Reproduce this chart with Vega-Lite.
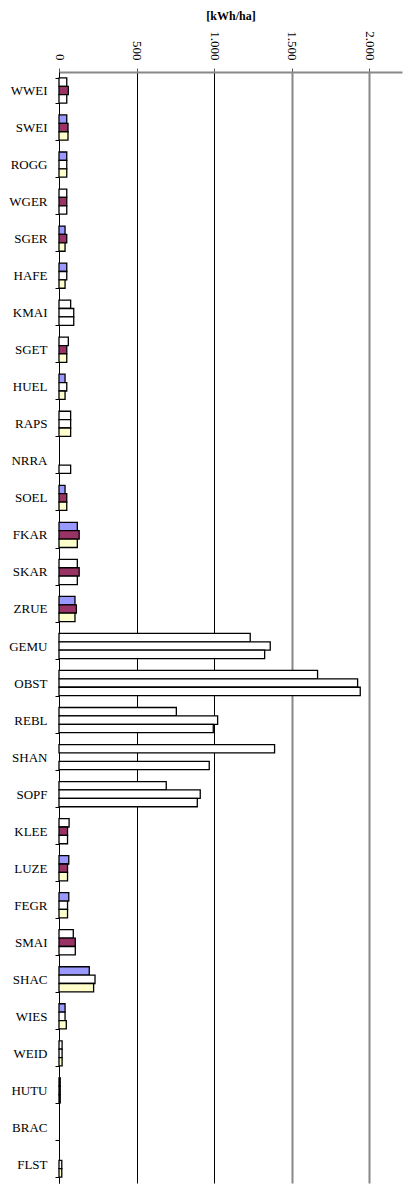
{
  "$schema": "https://vega.github.io/schema/vega-lite/v6.json",
  "width": 343,
  "height": 1111,
  "autosize": {"type": "none"},
  "padding": {"left": 59, "top": 72, "right": 7, "bottom": 6},
  "background": "white",
  "config": {"view": {"stroke": null}},
  "data": {
    "values": [
      {"crop": "WWEI", "series": "S1", "value": 50, "marked": true},
      {"crop": "WWEI", "series": "S2", "value": 60, "marked": false},
      {"crop": "WWEI", "series": "S3", "value": 50, "marked": true},
      {"crop": "SWEI", "series": "S1", "value": 50, "marked": false},
      {"crop": "SWEI", "series": "S2", "value": 58, "marked": false},
      {"crop": "SWEI", "series": "S3", "value": 58, "marked": false},
      {"crop": "ROGG", "series": "S1", "value": 50, "marked": false},
      {"crop": "ROGG", "series": "S2", "value": 50, "marked": true},
      {"crop": "ROGG", "series": "S3", "value": 50, "marked": false},
      {"crop": "WGER", "series": "S1", "value": 50, "marked": true},
      {"crop": "WGER", "series": "S2", "value": 50, "marked": false},
      {"crop": "WGER", "series": "S3", "value": 50, "marked": true},
      {"crop": "SGER", "series": "S1", "value": 39, "marked": false},
      {"crop": "SGER", "series": "S2", "value": 50, "marked": false},
      {"crop": "SGER", "series": "S3", "value": 39, "marked": false},
      {"crop": "HAFE", "series": "S1", "value": 50, "marked": false},
      {"crop": "HAFE", "series": "S2", "value": 50, "marked": true},
      {"crop": "HAFE", "series": "S3", "value": 39, "marked": false},
      {"crop": "KMAI", "series": "S1", "value": 75, "marked": true},
      {"crop": "KMAI", "series": "S2", "value": 95, "marked": true},
      {"crop": "KMAI", "series": "S3", "value": 95, "marked": true},
      {"crop": "SGET", "series": "S1", "value": 60, "marked": true},
      {"crop": "SGET", "series": "S2", "value": 50, "marked": false},
      {"crop": "SGET", "series": "S3", "value": 50, "marked": false},
      {"crop": "HUEL", "series": "S1", "value": 39, "marked": false},
      {"crop": "HUEL", "series": "S2", "value": 50, "marked": true},
      {"crop": "HUEL", "series": "S3", "value": 39, "marked": false},
      {"crop": "RAPS", "series": "S1", "value": 75, "marked": true},
      {"crop": "RAPS", "series": "S2", "value": 75, "marked": true},
      {"crop": "RAPS", "series": "S3", "value": 75, "marked": false},
      {"crop": "NRRA", "series": "S3", "value": 75, "marked": true},
      {"crop": "SOEL", "series": "S1", "value": 39, "marked": false},
      {"crop": "SOEL", "series": "S2", "value": 50, "marked": false},
      {"crop": "SOEL", "series": "S3", "value": 50, "marked": false},
      {"crop": "FKAR", "series": "S1", "value": 118, "marked": false},
      {"crop": "FKAR", "series": "S2", "value": 130, "marked": false},
      {"crop": "FKAR", "series": "S3", "value": 118, "marked": false},
      {"crop": "SKAR", "series": "S1", "value": 118, "marked": true},
      {"crop": "SKAR", "series": "S2", "value": 130, "marked": false},
      {"crop": "SKAR", "series": "S3", "value": 118, "marked": true},
      {"crop": "ZRUE", "series": "S1", "value": 103, "marked": false},
      {"crop": "ZRUE", "series": "S2", "value": 112, "marked": false},
      {"crop": "ZRUE", "series": "S3", "value": 103, "marked": false},
      {"crop": "GEMU", "series": "S1", "value": 1232, "marked": true},
      {"crop": "GEMU", "series": "S2", "value": 1361, "marked": true},
      {"crop": "GEMU", "series": "S3", "value": 1325, "marked": true},
      {"crop": "OBST", "series": "S1", "value": 1666, "marked": true},
      {"crop": "OBST", "series": "S2", "value": 1924, "marked": true},
      {"crop": "OBST", "series": "S3", "value": 1941, "marked": true},
      {"crop": "REBL", "series": "S1", "value": 756, "marked": true},
      {"crop": "REBL", "series": "S2", "value": 1022, "marked": true},
      {"crop": "REBL", "series": "S3", "value": 994, "marked": true},
      {"crop": "SHAN", "series": "S1", "value": 1389, "marked": true},
      {"crop": "SHAN", "series": "S3", "value": 968, "marked": true},
      {"crop": "SOPF", "series": "S1", "value": 691, "marked": true},
      {"crop": "SOPF", "series": "S2", "value": 910, "marked": true},
      {"crop": "SOPF", "series": "S3", "value": 891, "marked": true},
      {"crop": "KLEE", "series": "S1", "value": 65, "marked": true},
      {"crop": "KLEE", "series": "S2", "value": 55, "marked": false},
      {"crop": "KLEE", "series": "S3", "value": 55, "marked": true},
      {"crop": "LUZE", "series": "S1", "value": 63, "marked": false},
      {"crop": "LUZE", "series": "S2", "value": 55, "marked": false},
      {"crop": "LUZE", "series": "S3", "value": 55, "marked": false},
      {"crop": "FEGR", "series": "S1", "value": 63, "marked": false},
      {"crop": "FEGR", "series": "S2", "value": 55, "marked": true},
      {"crop": "FEGR", "series": "S3", "value": 55, "marked": false},
      {"crop": "SMAI", "series": "S1", "value": 92, "marked": true},
      {"crop": "SMAI", "series": "S2", "value": 105, "marked": false},
      {"crop": "SMAI", "series": "S3", "value": 105, "marked": true},
      {"crop": "SHAC", "series": "S1", "value": 195, "marked": false},
      {"crop": "SHAC", "series": "S2", "value": 232, "marked": true},
      {"crop": "SHAC", "series": "S3", "value": 223, "marked": false},
      {"crop": "WIES", "series": "S1", "value": 39, "marked": false},
      {"crop": "WIES", "series": "S2", "value": 39, "marked": true},
      {"crop": "WIES", "series": "S3", "value": 47, "marked": false},
      {"crop": "WEID", "series": "S1", "value": 20, "marked": true},
      {"crop": "WEID", "series": "S2", "value": 20, "marked": true},
      {"crop": "WEID", "series": "S3", "value": 20, "marked": false},
      {"crop": "HUTU", "series": "S1", "value": 8, "marked": true},
      {"crop": "HUTU", "series": "S2", "value": 8, "marked": true},
      {"crop": "HUTU", "series": "S3", "value": 8, "marked": true},
      {"crop": "FLST", "series": "S2", "value": 18, "marked": true},
      {"crop": "FLST", "series": "S3", "value": 18, "marked": false}
    ]
  },
  "mark": {"type": "bar", "stroke": "black", "strokeWidth": 1.3},
  "encoding": {
    "y": {
      "field": "crop",
      "type": "nominal",
      "sort": null,
      "scale": {
        "domain": ["WWEI","SWEI","ROGG","WGER","SGER","HAFE","KMAI","SGET","HUEL","RAPS","NRRA","SOEL","FKAR","SKAR","ZRUE","GEMU","OBST","REBL","SHAN","SOPF","KLEE","LUZE","FEGR","SMAI","SHAC","WIES","WEID","HUTU","BRAC","FLST"],
        "paddingInner": 0.32,
        "paddingOuter": 0.16
      },
      "axis": {
        "title": null,
        "orient": "left",
        "tickBand": "extent",
        "tickSize": 4,
        "tickColor": "black",
        "domainColor": "black",
        "labelFont": "Liberation Serif",
        "labelFontSize": 13,
        "labelColor": "black",
        "labelPadding": 8,
        "grid": false
      }
    },
    "yOffset": {
      "field": "series",
      "type": "nominal",
      "scale": {"domain": ["S1", "S2", "S3"], "paddingInner": 0, "paddingOuter": 0}
    },
    "x": {
      "field": "value",
      "type": "quantitative",
      "scale": {"domain": [0, 2210], "nice": false, "zero": true},
      "axis": {
        "orient": "top",
        "title": "[kWh/ha]",
        "titleFont": "Liberation Serif",
        "titleFontWeight": "bold",
        "titleFontSize": 12,
        "titleColor": "black",
        "titlePadding": 8,
        "values": [0, 500, 1000, 1500, 2000],
        "labelExpr": "replace(format(datum.value, ','), ',', '.')",
        "labelAngle": 90,
        "labelAlign": "right",
        "labelBaseline": "middle",
        "labelFont": "Liberation Serif",
        "labelFontSize": 13,
        "labelColor": "black",
        "labelPadding": 8,
        "tickSize": 4,
        "tickColor": "#555",
        "domainColor": "#888",
        "domainWidth": 2,
        "grid": true,
        "gridColor": {"condition": {"test": "datum.value >= 1500", "value": "#888"}, "value": "black"},
        "gridWidth": {"condition": {"test": "datum.value >= 1500", "value": 2}, "value": 1},
        "gridOpacity": 1
      }
    },
    "fill": {
      "condition": {"test": "datum.marked", "value": "white"},
      "field": "series",
      "type": "nominal",
      "scale": {"domain": ["S1", "S2", "S3"], "range": ["#9999FF", "#993366", "#FFFFCC"]},
      "legend": null
    }
  }
}
